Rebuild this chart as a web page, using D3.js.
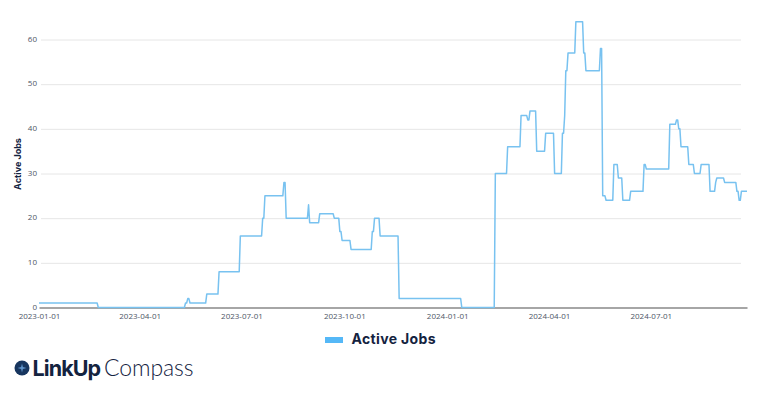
<!DOCTYPE html>
<html>
<head>
<meta charset="utf-8">
<script src="https://cdn.jsdelivr.net/npm/d3@7"></script>
<style>
html, body { margin: 0; padding: 0; background: #fff; overflow: hidden; }
</style>
</head>
<body>
<div id="chart"></div>
<script>
// Series name and axis labels
const seriesName = "Active Jobs";
const xTickLabels = ["2023-01-01", "2023-04-01", "2023-07-01", "2023-10-01", "2024-01-01", "2024-04-01", "2024-07-01"];
const yTickLabels = [0, 10, 20, 30, 40, 50, 60];

// Dates where the job count changes, and the count from that date on
const changeDates = [
  "2023-01-01", "2023-02-23", "2023-05-12", "2023-05-14", "2023-05-16", "2023-05-31", "2023-06-11",
  "2023-06-30", "2023-07-20", "2023-07-22", "2023-08-08", "2023-08-10", "2023-08-30", "2023-08-31",
  "2023-09-09", "2023-09-22", "2023-09-27", "2023-09-29", "2023-10-07", "2023-10-26", "2023-10-28",
  "2023-11-02", "2023-11-19", "2024-01-14", "2024-02-13", "2024-02-24", "2024-03-07", "2024-03-13",
  "2024-03-15", "2024-03-21", "2024-03-29", "2024-04-06", "2024-04-13", "2024-04-15", "2024-04-16",
  "2024-04-18", "2024-04-25", "2024-05-02", "2024-05-04", "2024-05-17", "2024-05-19", "2024-05-22",
  "2024-05-29", "2024-06-02", "2024-06-06", "2024-06-13", "2024-06-25", "2024-06-27", "2024-07-18",
  "2024-07-24", "2024-07-26", "2024-07-28", "2024-08-04", "2024-08-09", "2024-08-15", "2024-08-23",
  "2024-08-28", "2024-08-29", "2024-09-05", "2024-09-16", "2024-09-18", "2024-09-20"
];
const changeValues = [
  1, 0, 1, 2, 1, 3, 8,
  16, 20, 25, 28, 20, 23, 19,
  21, 20, 17, 15, 13, 17, 20,
  16, 2, 0, 30, 36, 43, 42,
  44, 35, 39, 30, 39, 43, 53,
  57, 64, 57, 53, 58, 25, 24,
  32, 29, 24, 26, 32, 31, 41,
  42, 40, 36, 32, 30, 32, 26,
  28, 29, 28, 26, 24, 26
];
const lastDate = "2024-09-25";

const width = 768, height = 394;
const margin = {top: 39, right: 21, bottom: 87, left: 39};
const parseDate = d3.utcParse("%Y-%m-%d");
const DAY = 864e5;

const svg = d3.select("#chart").append("svg")
  .attr("width", width)
  .attr("height", height)
  .style("display", "block");

const x = d3.scaleUtc()
  .domain([parseDate(changeDates[0]), parseDate(lastDate)])
  .range([margin.left, width - margin.right]);

const y = d3.scaleLinear()
  .domain([0, 60])
  .range([height - margin.bottom + .5, margin.top + .5]);

// Gridlines stop a little short of the line's end
const grid = svg.append("g")
  .attr("transform", `translate(${width - 27},0)`)
  .call(d3.axisLeft(y).tickValues(yTickLabels.slice(1)).tickSize(width - 27 - margin.left - 2).tickFormat(""));
grid.select(".domain").remove();
grid.selectAll("line").attr("stroke", "#e6e6e6");

// Y tick labels
const yAxis = svg.append("g")
  .attr("transform", `translate(${margin.left},0)`)
  .call(d3.axisLeft(y).tickValues(yTickLabels).tickSize(0).tickPadding(2));
yAxis.select(".domain").remove();
yAxis.selectAll("text")
  .attr("dy", "0.2em")
  .attr("font-family", "'Open Sans', sans-serif")
  .attr("font-size", 8)
  .attr("fill", "#4d5666");

// X axis with the grey baseline
const xAxis = svg.append("g")
  .attr("transform", `translate(0,${height - margin.bottom + .5})`)
  .call(d3.axisBottom(x).tickValues(xTickLabels.map(parseDate)).tickSize(0).tickPadding(6)
    .tickFormat(d3.utcFormat("%Y-%m-%d")));
xAxis.select(".domain").attr("stroke", "#a6a6a6").attr("stroke-width", 2);
xAxis.selectAll("text")
  .attr("font-family", "'Open Sans', sans-serif")
  .attr("font-size", 8)
  .attr("fill", "#4d5666");

// Each change takes one day, so the steps lean slightly
const points = [];
changeDates.forEach((d, i) => {
  const date = parseDate(d);
  if (i > 0) points.push([new Date(+date - DAY), changeValues[i - 1]]);
  points.push([date, changeValues[i]]);
});
points.push([parseDate(lastDate), changeValues[changeValues.length - 1]]);

svg.append("path")
  .datum(points)
  .attr("fill", "none")
  .attr("stroke", "#78c2f0")
  .attr("stroke-width", 1.5)
  .attr("stroke-linejoin", "round")
  .attr("d", d3.line().x(d => x(d[0])).y(d => y(d[1])));

// Axis title
svg.append("text")
  .attr("transform", "translate(21,164) rotate(-90)")
  .attr("text-anchor", "middle")
  .attr("font-family", "Inter, sans-serif")
  .attr("font-size", 9)
  .attr("font-weight", 700)
  .attr("fill", "#14233f")
  .text(seriesName);

// Legend
svg.append("rect")
  .attr("x", 325).attr("y", 337)
  .attr("width", 18).attr("height", 6)
  .attr("fill", "#55b8f7");
svg.append("text")
  .attr("x", 351.5).attr("y", 344)
  .attr("font-family", "Inter, sans-serif")
  .attr("font-size", 14)
  .attr("font-weight", 700)
  .attr("letter-spacing", .35)
  .attr("fill", "#14233f")
  .text(seriesName);

// Logo
const logo = svg.append("g").attr("transform", "translate(22,368)");
logo.append("circle").attr("r", 7.5).attr("fill", "#17365f");
logo.append("path")
  .attr("d", d3.lineRadial().angle((d, i) => i * Math.PI / 4).radius((d, i) => i % 2 ? 1.3 : 4.5).curve(d3.curveLinearClosed)(d3.range(8)))
  .attr("fill", "#5f93c9");
logo.append("text")
  .attr("x", 10.5).attr("y", 7.5)
  .attr("font-family", "Inter, sans-serif")
  .attr("font-size", 21.5)
  .attr("font-weight", 700)
  .attr("letter-spacing", -.9)
  .attr("fill", "#14233f")
  .text("LinkUp");
logo.append("text")
  .attr("x", 82).attr("y", 7.5)
  .attr("font-family", "Lato, sans-serif")
  .attr("font-size", 23)
  .attr("font-weight", 300)
  .attr("letter-spacing", -.1)
  .attr("fill", "#14233f")
  .text("Compass");
</script>
</body>
</html>
